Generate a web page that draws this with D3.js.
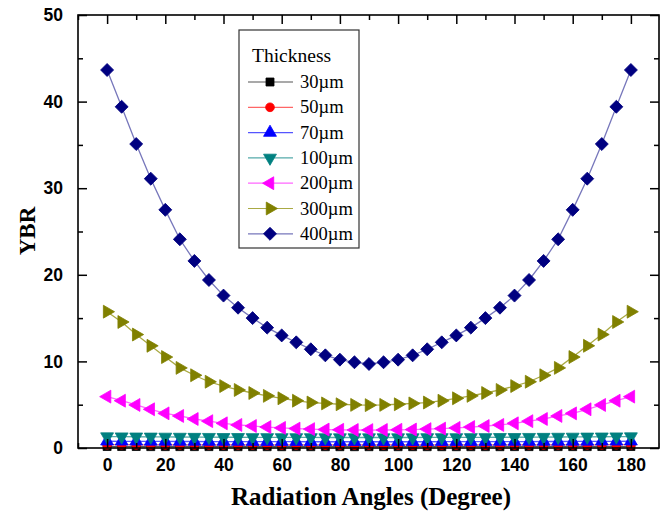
<!DOCTYPE html>
<html><head><meta charset="utf-8">
<script src="https://cdn.jsdelivr.net/npm/d3@7"></script>
<style>body{margin:0;background:#fff}svg{display:block}</style>
</head><body>
<svg id="c" width="660" height="516"></svg>
<script>
const angles = d3.range(0, 181, 5);
const seriesNames = ["30\u00b5m","50\u00b5m","70\u00b5m","100\u00b5m","200\u00b5m","300\u00b5m","400\u00b5m"];
const colors = ["#000000","#ff0000","#0000ff","#008080","#ff00ff","#808000","#000080"];
const lineColors = ["#555555","#ff6666","#5555ff","#55aaaa","#ff66ff","#aaaa44","#7777bb"];
const half400 = [43.65,39.4,35.1,31.1,27.5,24.1,21.6,19.4,17.6,16.2,15.0,13.9,13.0,12.2,11.4,10.7,10.2,9.9,9.7];
const half300 = [15.74,14.55,13.1,11.8,10.5,9.25,8.4,7.65,7.15,6.7,6.35,6.02,5.74,5.46,5.25,5.15,5.05,4.98,4.95];
const half200 = [5.93,5.46,4.97,4.47,4.0,3.7,3.35,3.1,2.85,2.66,2.54,2.42,2.32,2.24,2.18,2.13,2.1,2.08,2.07];
const half100 = [1.32,1.31,1.3,1.29,1.28,1.27,1.26,1.25,1.24,1.24,1.23,1.23,1.22,1.22,1.22,1.21,1.21,1.21,1.21];
const half70 = [0.78,0.77,0.77,0.76,0.76,0.75,0.75,0.74,0.74,0.74,0.73,0.73,0.73,0.73,0.72,0.72,0.72,0.72,0.72];
const half50 = [0.38,0.38,0.37,0.37,0.37,0.36,0.36,0.36,0.36,0.35,0.35,0.35,0.35,0.35,0.35,0.35,0.35,0.35,0.35];
const half30 = [0.17,0.17,0.17,0.16,0.16,0.16,0.16,0.16,0.16,0.15,0.15,0.15,0.15,0.15,0.15,0.15,0.15,0.15,0.15];
const mirror = h => h.concat(h.slice(0, 18).reverse());
const values = [mirror(half30), mirror(half50), mirror(half70), mirror(half100), mirror(half200), mirror(half300), mirror(half400)];
const xTicks = d3.range(0, 181, 20);
const yTicks = [0,10,20,30,40,50];

const svg = d3.select("#c");
const L = 78, R = 660, T = 15, B = 448;
const x = d3.scaleLinear().domain([-10, 190]).range([L, R]);
const y = d3.scaleLinear().domain([0, 50]).range([B, T]);

const shapes = [
  {t: d3.symbolSquare, s: 64, r: 0},
  {t: d3.symbolCircle, s: 60, r: 0},
  {t: d3.symbolTriangle, s: 72, r: 0},
  {t: d3.symbolTriangle, s: 72, r: 180},
  {t: d3.symbolTriangle, s: 72, r: -90},
  {t: d3.symbolTriangle, s: 72, r: 90},
  {t: d3.symbolSquare, s: 84, r: 45}
];
function drawMarker(g, i, cx, cy) {
  const sh = shapes[i];
  g.append("path").attr("d", d3.symbol().type(sh.t).size(sh.s)())
    .attr("transform", `translate(${cx},${cy}) rotate(${sh.r})`)
    .attr("fill", colors[i]).attr("stroke", colors[i]).attr("stroke-width", 0.8);
}

const plot = svg.append("g");
const line = d3.line().x((d, j) => x(angles[j])).y(d => y(d));
values.forEach((vals, i) => {
  const g = plot.append("g");
  g.append("path").datum(vals).attr("d", line).attr("fill", "none")
    .attr("stroke", lineColors[i]).attr("stroke-width", 1.3);
  vals.forEach((v, j) => drawMarker(g, i, x(angles[j]), y(v)));
});

// frame
svg.append("rect").attr("x", L).attr("y", T).attr("width", R - L - 1).attr("height", B - T)
  .attr("fill", "none").attr("stroke", "#000").attr("stroke-width", 1.6);

// ticks
svg.append("g").attr("transform", `translate(0,${B})`)
  .call(d3.axisBottom(x).tickValues(xTicks).tickSize(-9).tickPadding(11).tickFormat(d3.format("d")));
svg.append("g").attr("transform", `translate(0,${T})`)
  .call(d3.axisTop(x).tickValues(xTicks).tickSize(-9).tickFormat(""));
const minorX = d3.range(-10, 191, 10).filter(v => v % 20 !== 0);
svg.append("g").attr("transform", `translate(0,${B})`).call(d3.axisBottom(x).tickValues(minorX).tickSize(-5).tickFormat(""));
svg.append("g").attr("transform", `translate(0,${T})`).call(d3.axisTop(x).tickValues(minorX).tickSize(-5).tickFormat(""));
svg.append("g").attr("transform", `translate(${L},0)`)
  .call(d3.axisLeft(y).tickValues(yTicks).tickSize(-9).tickPadding(15));
svg.append("g").attr("transform", `translate(${R-1},0)`)
  .call(d3.axisRight(y).tickValues(yTicks).tickSize(-9).tickFormat(""));
const minorY = [5,15,25,35,45];
svg.append("g").attr("transform", `translate(${L},0)`).call(d3.axisLeft(y).tickValues(minorY).tickSize(-5).tickFormat(""));
svg.append("g").attr("transform", `translate(${R-1},0)`).call(d3.axisRight(y).tickValues(minorY).tickSize(-5).tickFormat(""));
svg.selectAll(".domain").remove();
svg.selectAll(".tick line").attr("stroke", "#000").attr("stroke-width", 1.5);
svg.selectAll(".tick text").attr("font-family", "Liberation Sans, Arial, sans-serif")
  .attr("font-weight", "bold").attr("font-size", 17.5).attr("fill", "#000");

// axis titles
svg.append("text").attr("x", 371).attr("y", 505).attr("text-anchor", "middle")
  .attr("font-family", "Liberation Serif, Times New Roman, serif").attr("font-weight", "bold")
  .attr("font-size", 25).text("Radiation Angles (Degree)");
svg.append("text").attr("transform", "translate(35,231) rotate(-90)").attr("text-anchor", "middle")
  .attr("font-family", "Liberation Serif, Times New Roman, serif").attr("font-weight", "bold")
  .attr("font-size", 23).text("YBR");

// legend
const lg = svg.append("g");
lg.append("rect").attr("x", 239).attr("y", 30).attr("width", 120).attr("height", 218)
  .attr("fill", "#fff").attr("stroke", "#333").attr("stroke-width", 1.2);
lg.append("text").attr("x", 252).attr("y", 62).attr("font-family", "Liberation Serif, Times New Roman, serif")
  .attr("font-size", 19.5).text("Thickness");
seriesNames.forEach((n, i) => {
  const cy = 82 + i * 25.3;
  lg.append("line").attr("x1", 248).attr("x2", 293).attr("y1", cy).attr("y2", cy)
    .attr("stroke", lineColors[i]).attr("stroke-width", 1.2);
  drawMarker(lg, i, 270, cy);
  lg.append("text").attr("x", 300).attr("y", cy + 6).attr("font-family", "Liberation Serif, Times New Roman, serif")
    .attr("font-size", 18.5).text(n);
});
</script>
</body></html>
